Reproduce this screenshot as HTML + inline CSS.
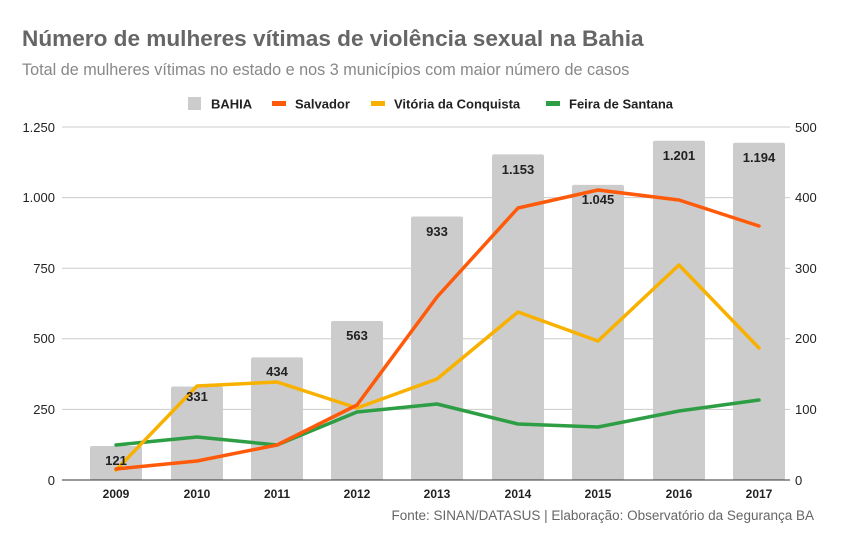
<!DOCTYPE html>
<html><head><meta charset="utf-8"><style>
body{margin:0;background:#fff;}
svg{display:block;font-family:"Liberation Sans",Arial,sans-serif;}
</style></head><body>
<svg width="865" height="534" viewBox="0 0 865 534">
<rect width="865" height="534" fill="#fff"/>
<text x="22" y="46" font-size="22.6" font-weight="bold" fill="#666">Número de mulheres vítimas de violência sexual na Bahia</text>
<text x="22" y="75" font-size="16.2" fill="#888">Total de mulheres vítimas no estado e nos 3 municípios com maior número de casos</text>
<g font-size="13" font-weight="bold" fill="#222">
<rect x="188" y="97" width="13" height="13" fill="#ccc"/><text x="211" y="108.5">BAHIA</text>
<rect x="272" y="101" width="14" height="5" fill="#ff5a0a"/><text x="295" y="108.5">Salvador</text>
<rect x="371" y="101" width="14" height="5" fill="#f9b100"/><text x="394" y="108.5">Vitória da Conquista</text>
<rect x="546" y="101" width="14" height="5" fill="#2e9e44"/><text x="569" y="108.5">Feira de Santana</text>
</g>
<g stroke="#ccc" stroke-width="1">
<line x1="62" x2="790" y1="127" y2="127"/><line x1="62" x2="790" y1="197.6" y2="197.6"/>
<line x1="62" x2="790" y1="268.2" y2="268.2"/><line x1="62" x2="790" y1="338.8" y2="338.8"/>
<line x1="62" x2="790" y1="409.4" y2="409.4"/>
</g>
<g font-size="13" fill="#222" text-anchor="end">
<text x="55" y="132">1.250</text><text x="55" y="202">1.000</text><text x="55" y="273">750</text>
<text x="55" y="343">500</text><text x="55" y="414">250</text><text x="55" y="485">0</text>
</g>
<g font-size="13" fill="#222">
<text x="795" y="132">500</text><text x="795" y="202">400</text><text x="795" y="273">300</text>
<text x="795" y="343">200</text><text x="795" y="414">100</text><text x="795" y="485">0</text>
</g>
<g fill="#ccc">
<rect x="90" y="446" width="52" height="34" rx="2"/><rect x="171" y="386.5" width="52" height="93.5" rx="2"/>
<rect x="251" y="357.4" width="52" height="122.6" rx="2"/><rect x="331" y="321" width="52" height="159" rx="2"/>
<rect x="411" y="216.5" width="52" height="263.5" rx="2"/><rect x="492" y="154.4" width="52" height="325.6" rx="2"/>
<rect x="572" y="184.9" width="52" height="295.1" rx="2"/><rect x="653" y="140.8" width="52" height="339.2" rx="2"/>
<rect x="733" y="142.8" width="52" height="337.2" rx="2"/>
</g>
<line x1="62" x2="790" y1="480" y2="480" stroke="#333" stroke-width="1"/>
<g fill="none" stroke-width="3.5" stroke-linejoin="round" stroke-linecap="round">
<polyline stroke="#2e9e44" points="116,445 197,437 277,445 357,412 437,404 518,424 598,427 679,411 759,400"/>
<polyline stroke="#f9b100" points="116,470 197,386 277,382 357,408 437,379 518,312 598,341 679,265 759,348"/>
<polyline stroke="#ff5a0a" points="116,469 197,461 277,445 357,405 437,297 518,208 598,190 679,200 759,226"/>
</g>
<g font-size="13" font-weight="bold" fill="#222" text-anchor="middle">
<text x="116" y="465">121</text><text x="197" y="401">331</text><text x="277" y="376">434</text>
<text x="357" y="340">563</text><text x="437" y="236">933</text><text x="518" y="174">1.153</text>
<text x="598" y="204">1.045</text><text x="679" y="160">1.201</text><text x="759" y="162">1.194</text>
</g>
<g font-size="12" font-weight="bold" fill="#222" text-anchor="middle">
<text x="116" y="498">2009</text><text x="197" y="498">2010</text><text x="277" y="498">2011</text>
<text x="357" y="498">2012</text><text x="437" y="498">2013</text><text x="518" y="498">2014</text>
<text x="598" y="498">2015</text><text x="679" y="498">2016</text><text x="759" y="498">2017</text>
</g>
<text x="814" y="520" font-size="13.5" fill="#666" text-anchor="end">Fonte: SINAN/DATASUS | Elaboração: Observatório da Segurança BA</text>
</svg>
</body></html>
